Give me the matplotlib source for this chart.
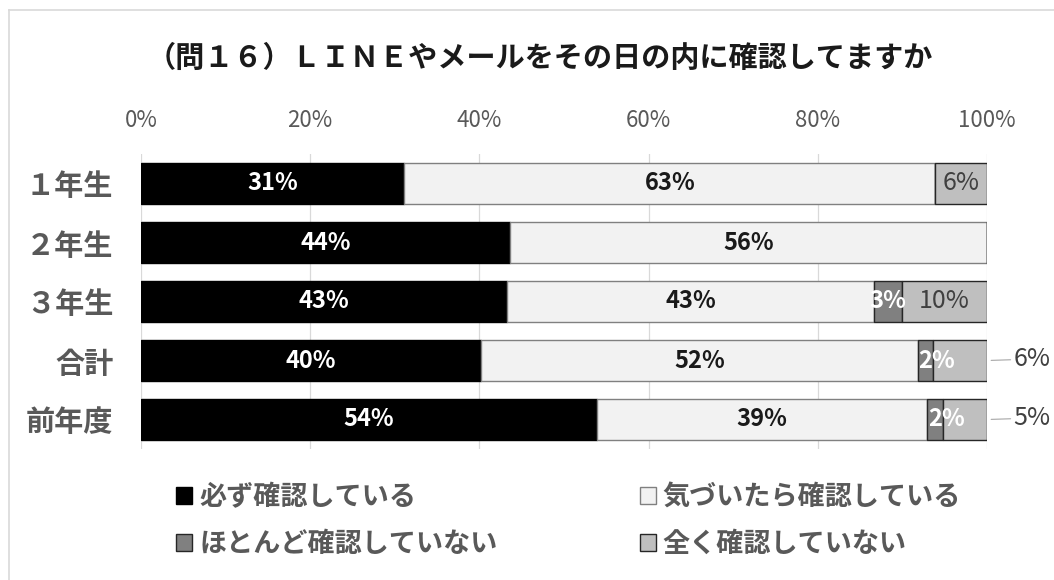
import matplotlib
matplotlib.use("Agg")
import matplotlib.pyplot as plt
from matplotlib.lines import Line2D
import numpy as np

plt.rcParams['font.family'] = ['Noto Sans CJK JP', 'DejaVu Sans']

title = "（問１６）ＬＩＮＥやメールをその日の内に確認してますか"
categories = ['１年生', '２年生', '３年生', '合計', '前年度']
series_names = ['必ず確認している', '気づいたら確認している', 'ほとんど確認していない', '全く確認していない']
always = [31.1, 43.6, 43.3, 40.2, 53.9]
notice = [62.8, 56.4, 43.3, 51.6, 39.0]
rarely = [0.0, 0.0, 3.3, 1.8, 1.9]
never = [6.1, 0.0, 10.1, 6.4, 5.2]
xticks = [0, 20, 40, 60, 80, 100]
xtick_labels = ['0%', '20%', '40%', '60%', '80%', '100%']

W, H = 1054, 580
fig = plt.figure(figsize=(W / 100, H / 100), dpi=100)
ax = fig.add_axes([141 / W, 1 - 449 / H, (987 - 141) / W, (449 - 154) / H])

face = ['#000000', '#f2f2f2', '#808080', '#bfbfbf']
edge = ['#000000', '#808080', '#262626', '#262626']
txtcol = ['white', '#1a1a1a', 'white', '#404040']
weights = ['bold', 'bold', 'bold', 'normal']

y = np.arange(len(categories))
series = [always, notice, rarely, never]
left = np.zeros(len(categories))
containers = []
for i, vals in enumerate(series):
    vals = np.array(vals)
    c = ax.barh(y, vals, left=left, height=0.69, color=face[i], edgecolor=edge[i],
                linewidth=1.0, zorder=3, label=series_names[i])
    containers.append(c)
    for j, v in enumerate(vals):
        if v <= 0:
            continue
        cx = left[j] + v / 2
        lab = f"{int(round(v))}%"
        if i == 3 and v < 8 and j >= 3:
            # outside label with leader line
            ax.annotate(lab, xy=(left[j] + v, y[j]), xytext=(19, 1),
                        textcoords='offset points', ha='left', va='center',
                        fontsize=18, color='#404040', annotation_clip=False,
                        arrowprops=dict(arrowstyle='-', color='#a6a6a6', lw=0.8,
                                        shrinkA=0, shrinkB=3))
            continue
        dx = 0
        if i == 2 and v < 2.5:
            dx = 8
        ax.annotate(lab, xy=(cx, y[j]), xytext=(dx, 0), textcoords='offset points',
                    ha='center', va='center', fontsize=18 if i == 3 else 17,
                    fontweight=weights[i], color=txtcol[i], zorder=5)
    left = left + vals

ax.set_xlim(0, 100)
ax.set_ylim(len(categories) - 0.5, -0.5)
ax.set_xticks(xticks)
ax.set_xticklabels(xtick_labels)
ax.xaxis.tick_top()
ax.tick_params(axis='x', length=0, pad=16, labelsize=16, labelcolor='#595959')
ax.set_yticks(y)
ax.set_yticklabels(categories, fontweight='bold')
ax.tick_params(axis='y', length=0, pad=20, labelsize=21, labelcolor='#595959')
ax.grid(axis='x', color='#d9d9d9', lw=0.9, zorder=0)
ax.set_axisbelow(True)
for s in ax.spines.values():
    s.set_visible(False)

fig.text(540 / W, 1 - 58 / H, title, ha='center', va='center', fontsize=21,
         fontweight='bold', color='#1a1a1a')

handles = [containers[0], containers[2], containers[1], containers[3]]
labels = [series_names[0], series_names[2], series_names[1], series_names[3]]
fig.legend(handles, labels, ncol=2, loc='upper left',
           bbox_to_anchor=(176 / W, 1 - 483 / H), frameon=False,
           prop={'size': 19.5, 'weight': 'bold'},
           labelcolor='#595959', handlelength=0.6, handleheight=0.6,
           handletextpad=0.25, columnspacing=5.25, labelspacing=0.7,
           borderaxespad=0, borderpad=0)

# chart border (light gray)
fig.add_artist(Line2D([9 / W, 9 / W], [0, 1 - 10 / H], transform=fig.transFigure,
                      color='#d9d9d9', lw=1.2))
fig.add_artist(Line2D([9 / W, 1], [1 - 10 / H, 1 - 10 / H], transform=fig.transFigure,
                      color='#d9d9d9', lw=1.2))

fig.savefig('out.png', dpi=100, facecolor='white')
